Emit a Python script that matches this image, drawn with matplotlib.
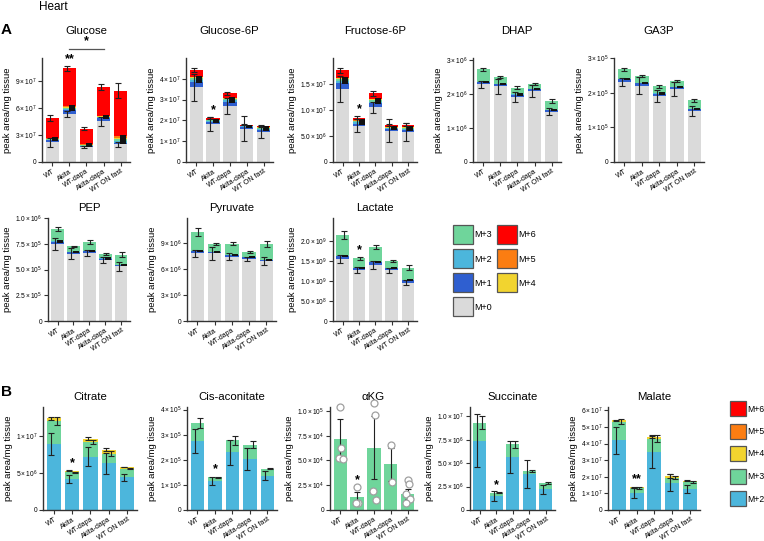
import matplotlib
matplotlib.use("Agg")
import matplotlib.pyplot as plt
from matplotlib.patches import Rectangle
import numpy as np

plt.rcParams['font.family'] = ['Liberation Sans', 'DejaVu Sans']
plt.rcParams['mathtext.fontset'] = 'custom'
plt.rcParams['mathtext.rm'] = 'Liberation Sans'
plt.rcParams['mathtext.it'] = 'Liberation Sans:italic'
plt.rcParams['mathtext.bf'] = 'Liberation Sans:bold'

W, H = 764, 541

GROUPS = ["WT", "Akita", "WT-dapa", "Akita-dapa", "WT ON fast"]
COLORS = {"M+0": "#dadada", "M+1": "#2f5fd0", "M+2": "#4cb6dc", "M+3": "#6fd59b",
          "M+4": "#f2d42f", "M+5": "#fb7d12", "M+6": "#ff0000"}

# ---- glycolysis (layer heights) ----
glucose = {"M+0": [2.2, 5.3, 1.65, 4.5, 1.95], "M+1": [0.2, 0.4, 0.1, 0.35, 0.2],
           "M+2": [0.08, 0.15, 0.05, 0.1, 0.15], "M+3": [0.06, 0.15, 0.05, 0.08, 0.2],
           "M+4": [0.04, 0.1, 0.05, 0.05, 0.2], "M+5": [0.04, 0.1, 0.05, 0.05, 0.2],
           "M+6": [2.28, 4.15, 1.75, 3.17, 5.0]}
glucose_err = {"M+0": [0.5, 0.35, 0.15, 0.5, 0.3], "M+6": [0.35, 0.25, 0.2, 0.35, 0.8]}

g6p = {"M+0": [3.6, 1.82, 2.7, 1.6, 1.45], "M+1": [0.25, 0.12, 0.2, 0.08, 0.1],
       "M+2": [0.1, 0.03, 0.08, 0.03, 0.05], "M+3": [0.1, 0.03, 0.07, 0.02, 0.04],
       "M+4": [0.02, 0.01, 0.02, 0.01, 0.02], "M+5": [0.02, 0.01, 0.02, 0.01, 0.02],
       "M+6": [0.33, 0.08, 0.21, 0.04, 0.06]}
g6p_err = {"M+0": [0.65, 0.35, 0.4, 0.6, 0.3], "M+6": [0.08, 0.05, 0.08, 0.03, 0.05]}

f6p = {"M+0": [1.40, 0.70, 1.05, 0.60, 0.58], "M+1": [0.11, 0.04, 0.08, 0.04, 0.04],
       "M+2": [0.04, 0.02, 0.03, 0.01, 0.02], "M+3": [0.05, 0.02, 0.04, 0.01, 0.02],
       "M+4": [0.01, 0.01, 0.01, 0.01, 0.01], "M+5": [0.01, 0.01, 0.01, 0.01, 0.01],
       "M+6": [0.14, 0.05, 0.10, 0.03, 0.04]}
f6p_err = {"M+0": [0.25, 0.12, 0.1, 0.22, 0.17], "M+6": [0.05, 0.03, 0.05, 0.02, 0.03]}

dhap = {"M+0": [2.28, 2.22, 1.91, 2.08, 1.47], "M+1": [0.07, 0.06, 0.06, 0.06, 0.05],
        "M+2": [0.01, 0.01, 0.01, 0.01, 0.01], "M+3": [0.36, 0.19, 0.2, 0.15, 0.25]}
dhap_err = {"M+0": [0.1, 0.22, 0.15, 0.18, 0.1], "M+3": [0.05, 0.03, 0.04, 0.03, 0.06]}

ga3p = {"M+0": [2.3, 2.2, 1.9, 2.1, 1.48], "M+1": [0.08, 0.07, 0.07, 0.06, 0.04],
        "M+2": [0.01, 0.01, 0.01, 0.01, 0.01], "M+3": [0.28, 0.19, 0.2, 0.16, 0.25]}
ga3p_err = {"M+0": [0.12, 0.25, 0.18, 0.2, 0.14], "M+3": [0.05, 0.03, 0.04, 0.03, 0.05]}

pep = {"M+0": [7.5, 6.55, 6.6, 5.95, 5.3], "M+1": [0.2, 0.15, 0.15, 0.1, 0.1],
       "M+2": [0.02, 0.02, 0.02, 0.02, 0.02], "M+3": [1.18, 0.53, 0.88, 0.43, 1.03]}
pep_err = {"M+0": [0.6, 0.5, 0.3, 0.3, 0.4], "M+3": [0.2, 0.05, 0.2, 0.1, 0.25]}

pyruvate = {"M+0": [7.85, 7.8, 7.45, 7.15, 6.9], "M+1": [0.25, 0.15, 0.15, 0.2, 0.15],
            "M+2": [0.02, 0.02, 0.02, 0.02, 0.02], "M+3": [2.18, 0.93, 1.33, 0.58, 1.83]}
pyruvate_err = {"M+0": [0.4, 0.7, 0.45, 0.25, 0.45], "M+3": [0.5, 0.1, 0.15, 0.1, 0.35]}

lactate = {"M+0": [1.55, 1.28, 1.4, 1.27, 0.96], "M+1": [0.07, 0.05, 0.07, 0.05, 0.06],
           "M+2": [0.005, 0.005, 0.005, 0.005, 0.005], "M+3": [0.525, 0.235, 0.375, 0.175, 0.315]}
lactate_err = {"M+0": [0.1, 0.08, 0.1, 0.07, 0.06], "M+3": [0.1, 0.03, 0.05, 0.03, 0.06]}

# ---- TCA cycle ----
citrate = {"M+2": [8.9, 4.2, 7.2, 6.3, 4.4], "M+3": [3.1, 0.9, 2.0, 1.3, 1.2],
           "M+4": [0.4, 0.2, 0.4, 0.5, 0.2]}
citrate_err = {"M+2": [1.5, 0.5, 1.3, 1.4, 0.5], "M+3": [0.5, 0.05, 0.3, 0.35, 0.05],
               "M+4": [0.2, 0.05, 0.2, 0.2, 0.05]}

cis_aconitate = {"M+2": [2.75, 1.15, 2.3, 2.03, 1.37], "M+3": [0.72, 0.15, 0.47, 0.57, 0.28]}
cis_aconitate_err = {"M+2": [0.48, 0.15, 0.5, 0.45, 0.18], "M+3": [0.2, 0.03, 0.18, 0.15, 0.03]}

akg_mean = [7.2, 1.3, 6.3, 4.6, 1.6]
akg_err = [2.0, 0.55, 3.2, 1.7, 0.5]
akg_points = [[10.4, 6.3, 5.3, 5.1], [2.3, 0.7, 0.7], [10.8, 9.6, 1.9, 1.0],
              [6.6, 2.8], [3.0, 2.6, 1.6, 1.1, 0.7]]

succinate = {"M+2": [7.4, 1.5, 5.7, 3.8, 2.2], "M+3": [1.9, 0.35, 1.3, 0.4, 0.7]}
succinate_err = {"M+2": [2.8, 0.5, 1.7, 1.5, 0.5], "M+3": [0.7, 0.05, 0.4, 0.1, 0.1]}

malate = {"M+2": [4.2, 1.05, 3.5, 1.65, 1.25], "M+3": [1.1, 0.27, 0.8, 0.3, 0.45],
          "M+4": [0.1, 0.06, 0.1, 0.1, 0.05]}
malate_err = {"M+2": [0.8, 0.3, 1.0, 0.5, 0.25], "M+3": [0.15, 0.05, 0.2, 0.1, 0.05],
              "M+4": [0.03, 0.03, 0.05, 0.1, 0.03]}


def px(l, r, t, b):
    return [l / W, 1 - b / H, (r - l) / W, (b - t) / H]


def sci(v, dec):
    if v == 0:
        return "0"
    e = int(np.floor(np.log10(v) + 1e-9))
    m = v / 10 ** e
    return r"$%.*f\times10^{%d}$" % (dec, m, e)


def style(ax, title, ticks, dec, ymax, tpad=5):
    x = np.arange(len(GROUPS))
    ax.set_xlim(-0.6, len(GROUPS) - 0.45)
    ax.set_ylim(0, ymax)
    ax.set_yticks(ticks)
    ax.set_yticklabels([sci(t, dec) for t in ticks], fontsize=4.8)
    ax.set_xticks(x)
    ax.set_xticklabels(GROUPS, rotation=33, ha='right', rotation_mode='anchor', fontsize=5.0)
    for s in ['top', 'right']:
        ax.spines[s].set_visible(False)
    for s in ['left', 'bottom']:
        ax.spines[s].set_linewidth(1.0)
        ax.spines[s].set_color('#333333')
    ax.tick_params(length=3, width=0.8, color='#333333', pad=1.2)
    ax.set_ylabel("peak area/mg tissue", fontsize=6.8, labelpad=2)
    ax.set_title(title, fontsize=8.2, pad=tpad)


def stack(ax, layers, errs, scale, top_off=-0.15):
    x = np.arange(len(GROUPS))
    bottom = np.zeros(len(x))
    names = list(layers)
    for i, name in enumerate(names):
        h = np.array(layers[name]) * scale
        ax.bar(x, h, 0.78, bottom=bottom, color=COLORS[name], linewidth=0, zorder=1)
        top = bottom + h
        if name in errs:
            e = np.array(errs[name]) * scale
            if i == 0:
                off = -0.15
            elif i == len(names) - 1:
                off = top_off
            else:
                off = 0.15
            ax.errorbar(x + off, top, yerr=e, fmt='none', ecolor='#222222',
                        elinewidth=0.8, capsize=2.0, capthick=0.8, zorder=3)
        else:
            ax.errorbar(x + 0.15, top, yerr=np.zeros(len(x)), fmt='none', ecolor='#111111',
                        elinewidth=0.8, capsize=2.2, capthick=1.3, zorder=3)
        bottom = top
    return bottom


def star(ax, i, y, text, ymax):
    ax.text(i, y + 0.07 * ymax, text, ha='center', va='center', fontsize=9, fontweight='bold')


fig = plt.figure(figsize=(W / 100, H / 100), dpi=100)

# ---- row 1 ----
panels1 = [
    ("Glucose", glucose, glucose_err, 1e7, [0, 3e7, 6e7, 9e7], 0, 1.15e8, (42, 130), -0.15),
    ("Glucose-6P", g6p, g6p_err, 1e7, [0, 1e7, 2e7, 3e7, 4e7], 0, 5.0e7, (186, 273), -0.15),
    ("Fructose-6P", f6p, f6p_err, 1e7, [0, 5e6, 1e7, 1.5e7], 1, 2.0e7, (333, 417), -0.15),
    ("DHAP", dhap, dhap_err, 1e6, [0, 1e6, 2e6, 3e6], 0, 3.05e6, (473, 561), 0.0),
    ("GA3P", ga3p, ga3p_err, 1e5, [0, 1e5, 2e5, 3e5], 0, 3.0e5, (614, 704), 0.0),
]
axes = {}
for title, layers, errs, scale, ticks, dec, ymax, (l, r), toff in panels1:
    ax = fig.add_axes(px(l, r, 58, 162))
    tot = stack(ax, layers, errs, scale, toff)
    style(ax, title, ticks, dec, ymax, tpad=17)
    axes[title] = (ax, tot, np.array(list(errs.values())[-1]) * scale, ymax)

# ---- row 2 ----
panels2 = [
    ("PEP", pep, pep_err, 1e5, [0, 2.5e5, 5e5, 7.5e5, 1e6], 1, 1.0e6, (48, 130)),
    ("Pyruvate", pyruvate, pyruvate_err, 1e6, [0, 3e6, 6e6, 9e6], 0, 1.19e7, (187, 276)),
    ("Lactate", lactate, lactate_err, 1e9, [0, 5e8, 1e9, 1.5e9, 2e9], 1, 2.58e9, (333, 417)),
]
for title, layers, errs, scale, ticks, dec, ymax, (l, r) in panels2:
    ax = fig.add_axes(px(l, r, 218, 321))
    tot = stack(ax, layers, errs, scale, 0.05)
    style(ax, title, ticks, dec, ymax)
    axes[title] = (ax, tot, np.array(list(errs.values())[-1]) * scale, ymax)

# ---- row 3 ----
panels3 = [
    ("Citrate", citrate, citrate_err, 1e6, [0, 5e6, 1e7], 0, 1.39e7, (43, 137), -0.15),
    ("Cis-aconitate", cis_aconitate, cis_aconitate_err, 1e5, [0, 1e5, 2e5, 3e5, 4e5], 0, 4.1e5, (187, 277), 0.15),
    ("Succinate", succinate, succinate_err, 1e6, [0, 2.5e6, 5e6, 7.5e6, 1e7], 1, 1.1e7, (470, 555), 0.15),
    ("Malate", malate, malate_err, 1e7, [0, 1e7, 2e7, 3e7, 4e7, 5e7, 6e7], 0, 6.2e7, (608, 700), -0.15),
]
for title, layers, errs, scale, ticks, dec, ymax, (l, r), toff in panels3:
    ax = fig.add_axes(px(l, r, 407, 510))
    tot = stack(ax, layers, errs, scale, toff)
    style(ax, title, ticks, dec, ymax)
    axes[title] = (ax, tot, np.array(list(errs.values())[-1]) * scale, ymax)

# alpha-KG
ax = fig.add_axes(px(330, 417, 407, 510))
x = np.arange(len(GROUPS))
ax.bar(x, np.array(akg_mean) * 1e4, 0.78, color=COLORS["M+3"], linewidth=0, zorder=1)
ax.errorbar(x, np.array(akg_mean) * 1e4, yerr=np.array(akg_err) * 1e4, fmt='none',
            ecolor='#222222', elinewidth=0.8, capsize=2.0, capthick=0.8, zorder=3)
jit = [0.0, 0.08, -0.08, 0.14, -0.12]
for i, pts in enumerate(akg_points):
    xs = [i + jit[k % len(jit)] for k in range(len(pts))]
    ax.plot(xs, np.array(pts) * 1e4, 'o', ms=5, mfc='white', mec='#a0a0a0', mew=0.9,
            zorder=4, clip_on=False)
style(ax, "\u03b1KG", [0, 2.5e4, 5e4, 7.5e4, 1e5], 1, 1.04e5)
star(ax, 1, max(akg_points[1]) * 1e4, "*", 1.04e5)

# significance marks
for name, i, txt in [("Glucose", 1, "**"), ("Glucose-6P", 1, "*"), ("Fructose-6P", 1, "*"),
                     ("Lactate", 1, "*"), ("Citrate", 1, "*"), ("Cis-aconitate", 1, "*"),
                     ("Succinate", 1, "*"), ("Malate", 1, "**")]:
    a, tot, err, ymax = axes[name]
    star(a, i, tot[i] + err[i], txt, ymax)

a = axes["Glucose"][0]
a.plot([1, 3], [1.255e8, 1.255e8], color='#555555', lw=0.9, clip_on=False)
a.text(2, 1.265e8, "*", ha='center', va='bottom', fontsize=9, fontweight='bold')

# ---- legends ----
legA = [("M+3", 453, 225), ("M+2", 453, 249), ("M+1", 453, 273), ("M+0", 453, 297),
        ("M+6", 497, 225), ("M+5", 497, 249), ("M+4", 497, 273)]
for name, lx, ty in legA:
    fig.add_artist(Rectangle((lx / W, 1 - (ty + 19) / H), 20 / W, 19 / H,
                             facecolor=COLORS[name], edgecolor='#555555', lw=0.9))
    fig.text((lx + 21) / W, 1 - (ty + 10) / H, name, fontsize=6.5, va='center')

legB = ["M+6", "M+5", "M+4", "M+3", "M+2"]
for k, name in enumerate(legB):
    ty = 401 + 22.5 * k
    fig.add_artist(Rectangle((730 / W, 1 - (ty + 15) / H), 16 / W, 15 / H,
                             facecolor=COLORS[name], edgecolor='#555555', lw=0.9))
    fig.text(747 / W, 1 - (ty + 8) / H, name, fontsize=6.2, va='center')

fig.text(39 / W, 1 - 7 / H, "Heart", fontsize=8.5, va='center')
fig.text(1 / W, 1 - 30 / H, "A", fontsize=11, fontweight='bold', va='center')
fig.text(1 / W, 1 - 392 / H, "B", fontsize=11, fontweight='bold', va='center')

fig.savefig("out.png", dpi=100)
